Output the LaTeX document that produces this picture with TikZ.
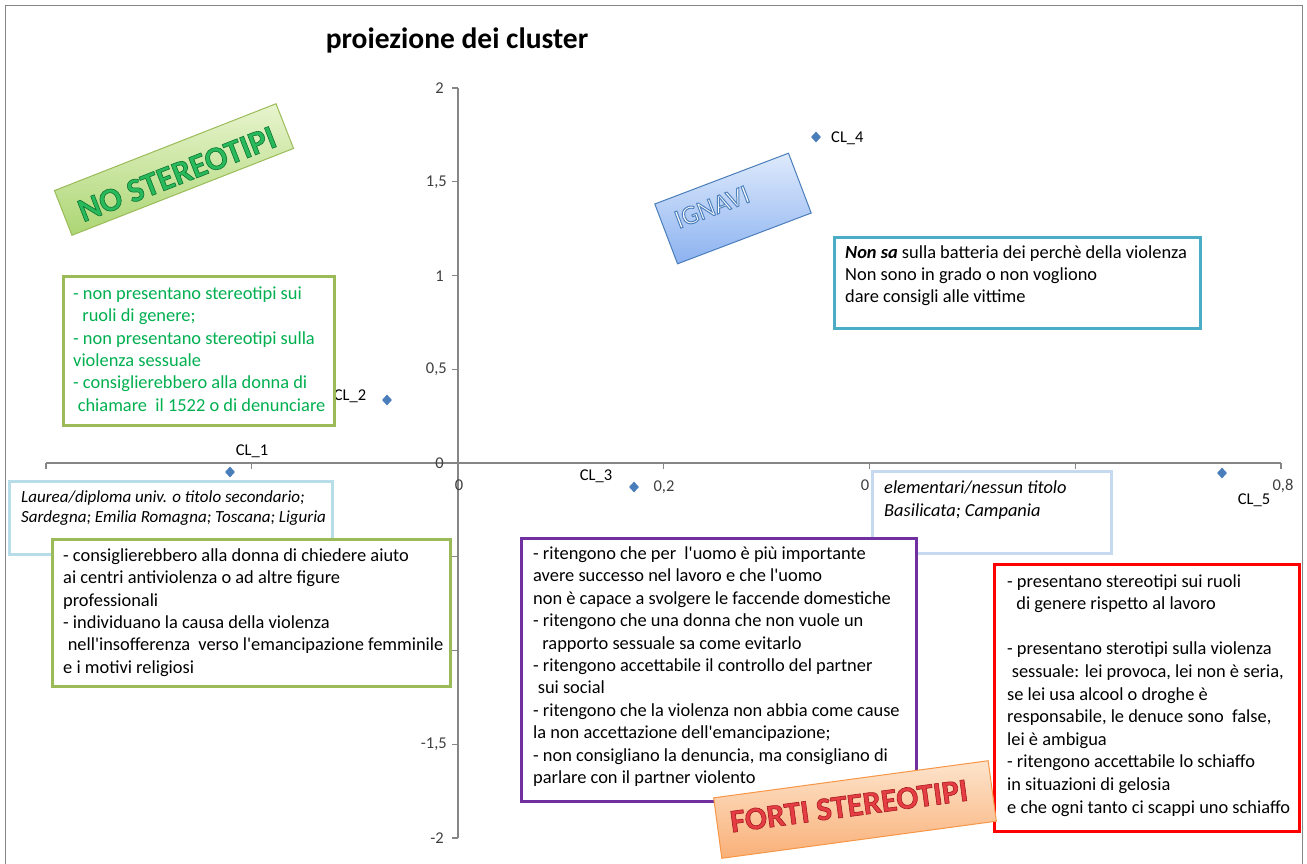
\documentclass[tikz,border=0pt]{standalone}
\usepackage{fontspec}
\setmainfont{Carlito}
\usetikzlibrary{shapes.geometric}
\definecolor{axgray}{HTML}{868686}
\definecolor{labgray}{HTML}{404040}
\definecolor{markblue}{HTML}{4A7EBB}
\definecolor{grnborder}{HTML}{9BBB59}
\definecolor{grntext}{HTML}{00B050}
\definecolor{lbblue}{HTML}{B7DDE8}
\definecolor{lbblue2}{HTML}{C6D9F1}
\definecolor{tealb}{HTML}{4BACC6}
\definecolor{purpb}{HTML}{7030A0}
\definecolor{redb}{HTML}{FF0000}
\definecolor{nsgreen}{RGB}{40,185,90}
\definecolor{fsred}{RGB}{228,62,68}
\newcommand{\ap}{\textquotesingle}
\newcommand{\outltext}[3]{\special{pdf:code q 2 Tr #1 w #2 RG}#3\special{pdf:code Q}}
\begin{document}
\begin{tikzpicture}[x=1pt,y=-1pt,
  box/.style={draw, fill=white, line width=3pt, anchor=north west, inner sep=0pt},
  txt/.style={anchor=base west, align=left, inner sep=0pt, font=\fontsize{18.4}{22.4}\selectfont},
  itxt/.style={anchor=base west, align=left, inner sep=0pt, font=\fontsize{17}{19.5}\selectfont\itshape},
  axlab/.style={font=\fontsize{16.5}{18}\selectfont, text=labgray, inner sep=0pt},
  cllab/.style={font=\fontsize{16.5}{18}\selectfont, text=black, inner sep=0pt},
  clmark/.style={diamond, fill=markblue, minimum width=10pt, minimum height=11pt, inner sep=0pt},
  tag/.style={draw, line width=1pt, minimum width=#1, inner sep=0pt}
]
\useasboundingbox (0,0) rectangle (1307,863);
\fill[white] (0,0) rectangle (1307,863);
\draw[axgray, line width=1pt] (5,870) -- (5,5) -- (1302,5) -- (1302,870);

% title
\node[font=\fontsize{29.5}{34}\selectfont\bfseries] (title) at (457,40) {proiezione dei cluster};

% axes
\coordinate (xl) at (46,463);
\coordinate (xr) at (1281,463);
\coordinate (yt) at (458,88);
\coordinate (yb) at (458,838);
\draw[axgray, line width=1.2pt] (xl) -- (xr);
\draw[axgray, line width=1.2pt] (yt) -- (yb);
\foreach \xx in {46,251.8,457.7,663.5,869.3,1075.2,1281}
  \draw[axgray, line width=1.2pt] (\xx,463) -- (\xx,469);
\foreach \yy in {88,181.75,275.5,369.25,463,556.75,650.5,744.25,838}
  \draw[axgray, line width=1.2pt] (452,\yy) -- (458,\yy);

% y labels
\node[axlab, anchor=east] (y2) at (444,88) {2};
\node[axlab, anchor=east] (y15) at (447,182) {1,5};
\node[axlab, anchor=east] (y1) at (444,276) {1};
\node[axlab, anchor=east] (y05) at (447,369) {0,5};
\node[axlab, anchor=east] (y0) at (444,463) {0};
\node[axlab, anchor=east] (ym15) at (447,744) {-1,5};
\node[axlab, anchor=east] (ym2) at (444,838) {-2};
% x labels
\node[axlab] (x0) at (459,485) {0};
\node[axlab] (x02) at (664,487) {0,2};
\node[axlab] (x04) at (865,485) {0};
\node[axlab] (x08) at (1283,486) {0,8};

% points
\node[clmark] (cl1) at (230,472) {};
\node[clmark] (cl2) at (387,400) {};
\node[clmark] (cl3) at (634,487) {};
\node[clmark] (cl4) at (816,137) {};
\node[clmark] (cl5) at (1222,473) {};
\node[cllab] (l1) at (252,451) {CL\_1};
\node[cllab] (l2) at (350,396) {CL\_2};
\node[cllab] (l3) at (596,476) {CL\_3};
\node[cllab, anchor=west] (l4) at (831,138) {CL\_4};
\node[cllab] (l5) at (1254,500) {CL\_5};

% boxes
\node[box, draw=lbblue, minimum width=323pt, minimum height=73pt] (laureabox) at (8,480) {};
\node[itxt] (laureatxt) at (21,522) {Laurea/diploma univ. o titolo secondario;\\Sardegna; Emilia Romagna; Toscana; Liguria};

\node[box, draw=grnborder, minimum width=398pt, minimum height=147pt] (g2box) at (51,538) {};
\node[txt, font=\fontsize{18.4}{22.3}\selectfont] (g2txt) at (63,673) {- consiglierebbero alla donna di chiedere aiuto\\ai centri antiviolenza o ad altre figure\\professionali\\- individuano la causa della violenza\\\hspace*{0.25em}nell\ap insofferenza\ \ verso l\ap emancipazione femminile\\e i motivi religiosi};

\node[box, draw=grnborder, minimum width=271pt, minimum height=149pt] (g1box) at (62,275) {};
\node[txt, font=\fontsize{18.4}{22.3}\selectfont, text=grntext] (g1txt) at (73,411) {- non presentano stereotipi sui\\\hspace*{0.5em}ruoli di genere;\\- non presentano stereotipi sulla\\violenza sessuale\\- consiglierebbero alla donna di\\\hspace*{0.25em}chiamare\ \ il 1522 o di denunciare};

\node[box, draw=lbblue2, minimum width=239pt, minimum height=82pt] (elbox) at (871,470) {};
\node[itxt, font=\fontsize{18.4}{23}\selectfont\itshape] (eltxt) at (884,516) {elementari/nessun titolo\\Basilicata; Campania};

\node[box, draw=purpb, minimum width=395pt, minimum height=263pt] (pbox) at (520,537) {};
\node[txt] (ptxt) at (533,783.5) {- ritengono che per\ \ l\ap uomo è più importante\\avere successo nel lavoro e che l\ap uomo\\non è capace a svolgere le faccende domestiche\\- ritengono che una donna che non vuole un\\\hspace*{0.5em}rapporto sessuale sa come evitarlo\\- ritengono accettabile il controllo del partner\\\hspace*{0.25em}sui social\\- ritengono che la violenza non abbia come cause\\la non accettazione dell\ap emancipazione;\\- non consigliano la denuncia, ma consigliano di\\parlare con il partner violento};

\node[box, draw=tealb, minimum width=366pt, minimum height=91pt] (tbox) at (833,236) {};
\node[txt, font=\fontsize{18.4}{22}\selectfont] (ttxt) at (845,302.5) {\textbf{\textit{Non sa}} sulla batteria dei perchè della violenza\\Non sono in grado o non vogliono\\dare consigli alle vittime};

\node[box, draw=redb, minimum width=305pt, minimum height=267pt] (rbox) at (993,563) {};
\node[txt, font=\fontsize{18.4}{22.6}\selectfont] (rtxt) at (1007,813) {- presentano stereotipi sui ruoli\\\hspace*{0.5em}di genere rispetto al lavoro\\[22.6pt]- presentano sterotipi sulla violenza\\\hspace*{0.25em}sessuale: lei provoca, lei non è seria,\\se lei usa alcool o droghe è\\responsabile, le denuce sono\ \ false,\\lei è ambigua\\- ritengono accettabile lo schiaffo\\in situazioni di gelosia\\e che ogni tanto ci scappi uno schiaffo};

% rotated tags
\node[tag=238pt, draw=grnborder, minimum height=48pt, rotate=21.4, top color={rgb,255:red,232;green,244;blue,206}, bottom color={rgb,255:red,172;green,214;blue,116}] (nsbox) at (174,169.5) {};
\node[rotate=21.4, inner sep=0pt, font=\fontsize{33.5}{36}\selectfont\bfseries, text=nsgreen] (nstxt) at (177,174) {\outltext{0.6}{0.05 0.45 0.2}{NO STEREOTIPI}};

\node[tag=143pt, draw=markblue, minimum height=64pt, rotate=20.8, top color={rgb,255:red,222;green,234;blue,252}, bottom color={rgb,255:red,140;green,178;blue,240}] (igbox) at (733,208.5) {};
\node[rotate=20.8, inner sep=0pt, font=\fontsize{27}{30}\selectfont, text=white] (igtxt) at (712,207) {\outltext{1}{0.31 0.51 0.74}{IGNAVI}};

\node[tag=277pt, draw={rgb,255:red,247;green,150;blue,70}, minimum height=61pt, rotate=7.7, top color={rgb,255:red,253;green,228;blue,204}, bottom color={rgb,255:red,249;green,176;blue,120}] (fsbox) at (855,809.5) {};
\node[rotate=7.7, inner sep=0pt, font=\fontsize{32.5}{36}\selectfont\bfseries, text=fsred] (fstxt) at (849,806) {\outltext{0.6}{0.65 0.1 0.12}{FORTI STEREOTIPI}};
\end{tikzpicture}
\end{document}
